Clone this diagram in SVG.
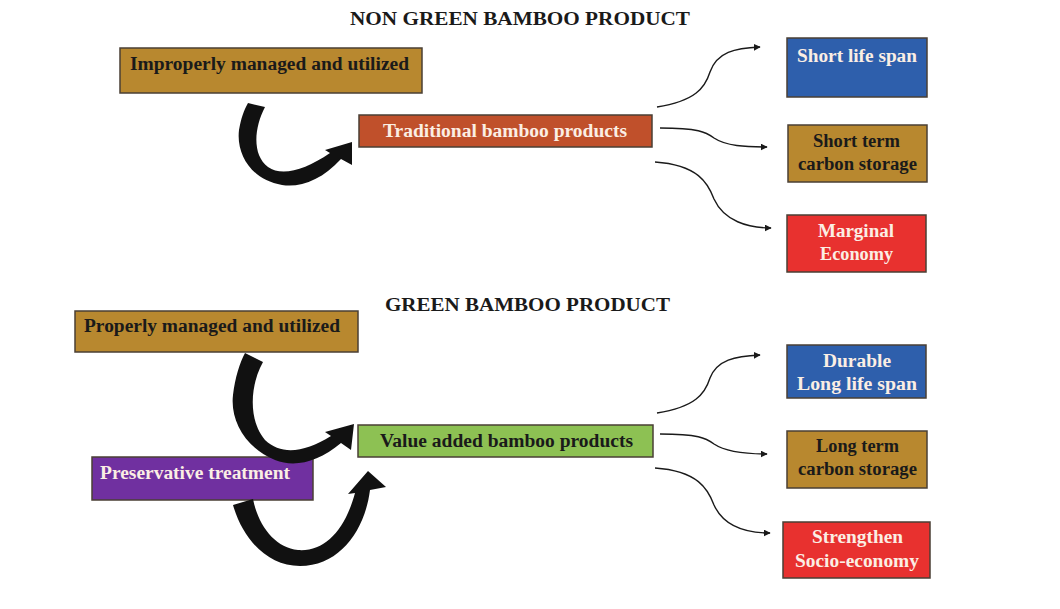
<svg xmlns="http://www.w3.org/2000/svg" width="1060" height="609" viewBox="0 0 1060 609">
<style>
.t{font-family:"Liberation Serif","Times New Roman",serif;font-weight:bold;font-size:18px}
.title{font-family:"Liberation Serif","Times New Roman",serif;font-weight:bold;font-size:18px;fill:#1a1a1a}
.box{stroke:#4a3f35;stroke-width:1.5}
.gold{fill:#b8882f}
.rust{fill:#c0502b}
.blue{fill:#2e5fac}
.red{fill:#e8312f}
.green{fill:#8dc153}
.purple{fill:#7030a0}
.dark{fill:#1a1a1a}
.light{fill:#fbeee4}
.conn{fill:none;stroke:#1a1a1a;stroke-width:1.4;marker-end:url(#ah)}
.big{fill:#111}
</style>
<defs>
<marker id="ah" viewBox="0 0 10 10" refX="9" refY="5" markerWidth="7" markerHeight="7" markerUnits="userSpaceOnUse" orient="auto">
<path d="M0,0 L10,5 L0,10 Z" fill="#1a1a1a"/>
</marker>
</defs>
<rect width="1060" height="609" fill="#ffffff"/>

<text class="title" x="350" y="25" textLength="340" lengthAdjust="spacingAndGlyphs">NON GREEN BAMBOO PRODUCT</text>
<text class="title" x="385" y="311" textLength="285" lengthAdjust="spacingAndGlyphs">GREEN BAMBOO PRODUCT</text>

<g id="improperly">
<rect class="box gold" x="120" y="48" width="302" height="45"/>
<text class="t dark" x="130" y="70" textLength="279" lengthAdjust="spacingAndGlyphs">Improperly managed and utilized</text>
</g>
<g id="traditional">
<rect class="box rust" x="359" y="115" width="293" height="32"/>
<text class="t light" x="383" y="137" textLength="244" lengthAdjust="spacingAndGlyphs">Traditional bamboo products</text>
</g>
<g id="short-life">
<rect class="box blue" x="787" y="38" width="140" height="59"/>
<text class="t light" x="797" y="62" textLength="120" lengthAdjust="spacingAndGlyphs">Short life span</text>
</g>
<g id="short-term">
<rect class="box gold" x="788" y="125" width="139" height="57"/>
<text class="t dark" x="813" y="147" textLength="87" lengthAdjust="spacingAndGlyphs">Short term</text>
<text class="t dark" x="798" y="170" textLength="119" lengthAdjust="spacingAndGlyphs">carbon storage</text>
</g>
<g id="marginal">
<rect class="box red" x="787" y="215" width="139" height="57"/>
<text class="t light" x="818" y="237" textLength="76" lengthAdjust="spacingAndGlyphs">Marginal</text>
<text class="t light" x="820" y="260" textLength="73" lengthAdjust="spacingAndGlyphs">Economy</text>
</g>

<g id="properly">
<rect class="box gold" x="75" y="311" width="283" height="41"/>
<text class="t dark" x="84" y="332" textLength="256" lengthAdjust="spacingAndGlyphs">Properly managed and utilized</text>
</g>
<g id="value-added">
<rect class="box green" x="358" y="425" width="295" height="32"/>
<text class="t dark" x="380" y="447" textLength="253" lengthAdjust="spacingAndGlyphs">Value added bamboo products</text>
</g>
<g id="preservative">
<rect class="box purple" x="92" y="457" width="221" height="43"/>
<text class="t light" x="100" y="479" textLength="190" lengthAdjust="spacingAndGlyphs">Preservative treatment</text>
</g>
<g id="durable">
<rect class="box blue" x="787" y="345" width="139" height="53"/>
<text class="t light" x="823" y="367" textLength="68" lengthAdjust="spacingAndGlyphs">Durable</text>
<text class="t light" x="797" y="390" textLength="120" lengthAdjust="spacingAndGlyphs">Long life span</text>
</g>
<g id="long-term">
<rect class="box gold" x="787" y="431" width="140" height="57"/>
<text class="t dark" x="816" y="452" textLength="83" lengthAdjust="spacingAndGlyphs">Long term</text>
<text class="t dark" x="798" y="475" textLength="119" lengthAdjust="spacingAndGlyphs">carbon storage</text>
</g>
<g id="strengthen">
<rect class="box red" x="783" y="522" width="147" height="56"/>
<text class="t light" x="812" y="543" textLength="91" lengthAdjust="spacingAndGlyphs">Strengthen</text>
<text class="t light" x="795" y="567" textLength="124" lengthAdjust="spacingAndGlyphs">Socio-economy</text>
</g>

<g id="connectors">
<path class="big" d="M265,107 C254,128 252,155 268,167 C282,177 305,170 330,153 L325,150 L352,142 L352,165 L341,159 C322,180 300,188 282,185 C252,180 236,155 239,130 C241,118 244,110 248,103 Z"/>
<path class="big" d="M263,362 C250,385 248,420 265,440 C282,456 305,452 331,436 L325,432 L354,424 L351,450 L341,443 C318,462 295,468 275,460 C245,448 230,420 233,395 C235,378 240,362 245,353 Z"/>
<path class="big" d="M233,505 L253,499 C258,525 275,548 298,550 C325,552 345,530 355,493 L348,494 L368,471 L386,487 L370,490 C365,530 340,566 300,566 C268,566 243,540 233,505 Z"/>

<path class="conn" d="M657,107 C695,101 705,88 710,72 C717,52 735,48 760,47"/>
<path class="conn" d="M660,128 C698,128 706,132 714,138 C726,146 745,147 767,147"/>
<path class="conn" d="M655,162 C698,165 708,183 714,199 C724,221 748,228 771,228"/>

<path class="conn" d="M657,413 C695,407 705,394 710,378 C717,360 735,356 760,355"/>
<path class="conn" d="M660,434 C698,434 706,438 714,444 C726,452 745,454 767,454"/>
<path class="conn" d="M655,468 C698,471 708,489 714,505 C724,527 748,533 770,533"/>
</g>
</svg>
